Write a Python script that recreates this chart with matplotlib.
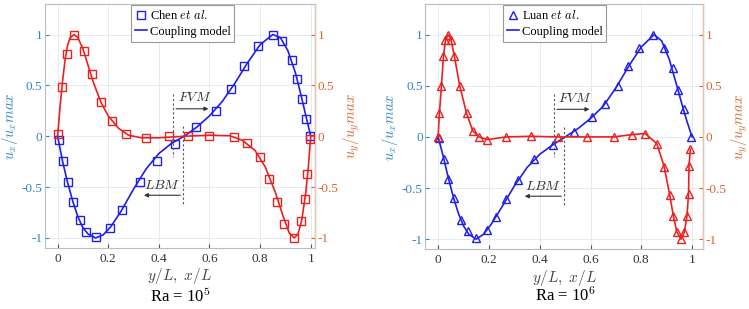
import numpy as np
import matplotlib
matplotlib.use('Agg')
import matplotlib.pyplot as plt

plt.rcParams['font.family'] = ['Liberation Serif', 'DejaVu Serif']
plt.rcParams['mathtext.fontset'] = 'cm'

# Ra = 1e5, reference data (Chen et al.)
ref5_x_ux = [0.004, 0.02, 0.04, 0.06, 0.087, 0.113, 0.15, 0.207, 0.253, 0.324, 0.391, 0.462,
             0.547, 0.624, 0.684, 0.738, 0.79, 0.85, 0.887, 0.925, 0.946, 0.966, 0.983, 0.997]
ref5_ux = [-0.04, -0.24, -0.445, -0.65, -0.82, -0.94, -0.99, -0.9, -0.73, -0.445, -0.24, -0.076,
           0.086, 0.25, 0.46, 0.69, 0.89, 1.0, 0.94, 0.75, 0.56, 0.37, 0.17, 0.0]
ref5_x_uy = [0.0, 0.018, 0.037, 0.066, 0.105, 0.137, 0.171, 0.216, 0.27, 0.348, 0.441, 0.516,
             0.599, 0.698, 0.749, 0.799, 0.837, 0.868, 0.896, 0.932, 0.963, 0.977, 0.985, 0.997]
ref5_uy = [0.02, 0.48, 0.81, 1.0, 0.84, 0.61, 0.34, 0.145, 0.02, -0.013, 0.0, 0.0,
           0.0, -0.003, -0.066, -0.2, -0.42, -0.65, -0.86, -1.0, -0.83, -0.62, -0.37, -0.03]

# Ra = 1e5, coupling model
mod5_x_ux = [0, 0.02, 0.04, 0.06, 0.08, 0.10, 0.12, 0.15, 0.18, 0.21, 0.25, 0.30, 0.35, 0.40, 0.45,
             0.50, 0.55, 0.60, 0.65, 0.70, 0.75, 0.80, 0.85, 0.88, 0.91, 0.94, 0.96, 0.98, 1.0]
mod5_ux = [0, -0.25, -0.46, -0.64, -0.79, -0.90, -0.96, -1.0, -0.97, -0.89, -0.74, -0.52, -0.32,
           -0.17, -0.07, 0.0, 0.09, 0.2, 0.34, 0.52, 0.72, 0.90, 1.0, 0.97, 0.84, 0.62, 0.42, 0.21, 0.0]
mod5_x_uy = [0, 0.01, 0.02, 0.03, 0.04, 0.05, 0.065, 0.08, 0.10, 0.12, 0.14, 0.17, 0.20, 0.24, 0.28,
             0.33, 0.40, 0.50, 0.60, 0.68, 0.73, 0.78, 0.82, 0.86, 0.89, 0.915, 0.935, 0.95, 0.965,
             0.98, 0.99, 1.0]
mod5_uy = [0, 0.3, 0.55, 0.76, 0.9, 0.97, 1.0, 0.97, 0.86, 0.7, 0.54, 0.34, 0.2, 0.08, 0.01,
           -0.015, -0.015, 0.0, 0.01, 0.005, -0.04, -0.14, -0.3, -0.55, -0.78, -0.95, -1.0, -0.96,
           -0.82, -0.56, -0.32, 0.0]

# Ra = 1e6, reference data (Luan et al.)
ref6_x_ux = [0.003, 0.024, 0.039, 0.062, 0.089, 0.117, 0.151, 0.193, 0.226, 0.269, 0.315, 0.378,
             0.451, 0.534, 0.605, 0.656, 0.707, 0.749, 0.791, 0.845, 0.89, 0.923, 0.945, 0.967, 0.996]
ref6_ux = [-0.01, -0.22, -0.41, -0.6, -0.81, -0.92, -0.99, -0.91, -0.78, -0.61, -0.42, -0.22,
           -0.075, 0.05, 0.19, 0.32, 0.5, 0.69, 0.87, 1.0, 0.87, 0.67, 0.46, 0.27, 0.0]
ref6_x_uy = [0.0, 0.005, 0.013, 0.021, 0.029, 0.04, 0.051, 0.064, 0.085, 0.112, 0.136, 0.161, 0.194,
             0.268, 0.364, 0.472, 0.585, 0.693, 0.764, 0.815, 0.861, 0.89, 0.912, 0.926, 0.94,
             0.957, 0.97, 0.98, 0.986, 0.988, 0.993]
ref6_uy = [0.0, 0.23, 0.5, 0.79, 0.95, 1.0, 0.95, 0.79, 0.5, 0.23, 0.06, 0.0, -0.026,
           0.0, 0.006, 0.0, 0.0, 0.0, 0.023, 0.033, -0.065, -0.29, -0.57, -0.77, -0.93,
           -1.0, -0.93, -0.77, -0.56, -0.28, -0.12]

# Ra = 1e6, coupling model
mod6_x_ux = [0, 0.02, 0.04, 0.06, 0.08, 0.10, 0.12, 0.15, 0.18, 0.21, 0.25, 0.30, 0.35, 0.40, 0.45,
             0.50, 0.55, 0.60, 0.65, 0.70, 0.75, 0.80, 0.85, 0.88, 0.91, 0.94, 0.96, 0.98, 1.0]
mod6_ux = [0, -0.19, -0.4, -0.59, -0.75, -0.87, -0.95, -1.0, -0.95, -0.85, -0.69, -0.48, -0.3,
           -0.17, -0.08, 0.0, 0.08, 0.18, 0.3, 0.48, 0.69, 0.88, 1.0, 0.94, 0.76, 0.5, 0.32, 0.15, 0.0]
mod6_x_uy = ref6_x_uy
mod6_uy = ref6_uy

blue_c = '#2f86c4'
orange_c = '#d4692f'


def panel(ax, xr_u, r_u, xr_v, r_v, xm_u, m_u, xm_v, m_v, marker, ref_name, xmax, leg_x):
    ax.set_xlim(-0.05, xmax)
    ax.set_ylim(-1.1, 1.3)
    ax.set_xticks([0, 0.2, 0.4, 0.6, 0.8, 1])
    ax.set_xticklabels(['0', '0.2', '0.4', '0.6', '0.8', '1'])
    ax.set_yticks([-1, -0.5, 0, 0.5, 1])
    ax.set_yticklabels(['-1', '-0.5', '0', '0.5', '1'])
    ax.grid(True, color='#e4ecf0', lw=0.7)
    ax.tick_params(axis='y', colors=blue_c, labelsize=9.5, length=3, direction='in', pad=2)
    ax.tick_params(axis='x', colors='#555555', labelsize=9.5, length=3, direction='in')
    for lab in ax.get_xticklabels():
        lab.set_color('#333333')
    for s in ['left', 'top', 'bottom']:
        ax.spines[s].set_color('#b8bec2')
    ax.set_ylabel(r'$u_x/u_xmax$', color=blue_c, fontsize=10.5, labelpad=1)
    ax.set_xlabel(r'$y/L,\ x/L$', color='#444444', fontsize=11, labelpad=1)

    h1, = ax.plot(xr_u, r_u, ls='none', marker=marker, ms=5.5, mfc='none', mec='#1f1fe8', mew=1.0,
                  label=ref_name)
    h2, = ax.plot(xm_u, m_u, color='#1f1fe8', lw=1.2, label='Coupling model')

    ax2 = ax.twinx()
    ax2.set_xlim(-0.05, xmax)
    ax2.set_ylim(-1.1, 1.3)
    ax2.set_yticks([-1, -0.5, 0, 0.5, 1])
    ax2.set_yticklabels(['-1', '-0.5', '0', '0.5', '1'])
    ax2.tick_params(axis='y', colors=orange_c, labelsize=9.5, length=3, direction='in', pad=2)
    ax2.spines['right'].set_color('#e6c6ae')
    for s in ['left', 'top', 'bottom']:
        ax2.spines[s].set_visible(False)
    ax2.set_ylabel(r'$u_y/u_ymax$', color=orange_c, fontsize=10.5, labelpad=2)
    ax2.plot(xr_v, r_v, ls='none', marker=marker, ms=5.5, mfc='none', mec='#ec2020', mew=1.0)
    ax2.plot(xm_v, m_v, color='#ec2020', lw=1.2)

    leg = ax2.legend([h1, h2], [ref_name, 'Coupling model'], loc='upper center',
                     bbox_to_anchor=(leg_x, 1.0), fontsize=9, handlelength=1.0,
                     handletextpad=0.2, borderpad=0.3, labelspacing=0.3, fancybox=False,
                     edgecolor='#999999', framealpha=1.0, borderaxespad=0.1)
    leg.get_frame().set_linewidth(0.8)

    # FVM / LBM annotations
    ax2.plot([0.457, 0.457], [0.42, -0.2], ls=(0, (2, 2)), color='#555555', lw=0.8)
    ax2.annotate('', xy=(0.607, 0.27), xytext=(0.457, 0.27),
                 arrowprops=dict(arrowstyle='-|>', color='#333333', lw=0.8, mutation_scale=6))
    ax2.text(0.54, 0.38, r'$FVM$', ha='center', va='center', fontsize=10, color='#333333')
    ax2.plot([0.496, 0.496], [0.1, -0.67], ls=(0, (2, 2)), color='#555555', lw=0.8)
    ax2.annotate('', xy=(0.33, -0.58), xytext=(0.496, -0.58),
                 arrowprops=dict(arrowstyle='-|>', color='#333333', lw=0.8, mutation_scale=6))
    ax2.text(0.412, -0.485, r'$LBM$', ha='center', va='center', fontsize=10, color='#333333')


fig = plt.figure(figsize=(7.49, 3.09), dpi=100)
axL = fig.add_axes([0.060, 0.197, 0.3606, 0.790])
axR = fig.add_axes([0.568, 0.193, 0.3706, 0.794])

panel(axL, ref5_x_ux, ref5_ux, ref5_x_uy, ref5_uy, mod5_x_ux, mod5_ux, mod5_x_uy, mod5_uy,
      's', r'Chen $et\ al.$', 1.017, 0.51)
panel(axR, ref6_x_ux, ref6_ux, ref6_x_uy, ref6_uy, mod6_x_ux, mod6_ux, mod6_x_uy, mod6_uy,
      '^', r'Luan $et\ al.$', 1.043, 0.466)

fig.text(180 / 749, 1 - 296 / 309, 'Ra = 10$^{5}$', ha='center', va='center', fontsize=12)
fig.text(565 / 749, 1 - 296 / 309, 'Ra = 10$^{6}$', ha='center', va='center', fontsize=12)

fig.savefig('out.png', dpi=100)
